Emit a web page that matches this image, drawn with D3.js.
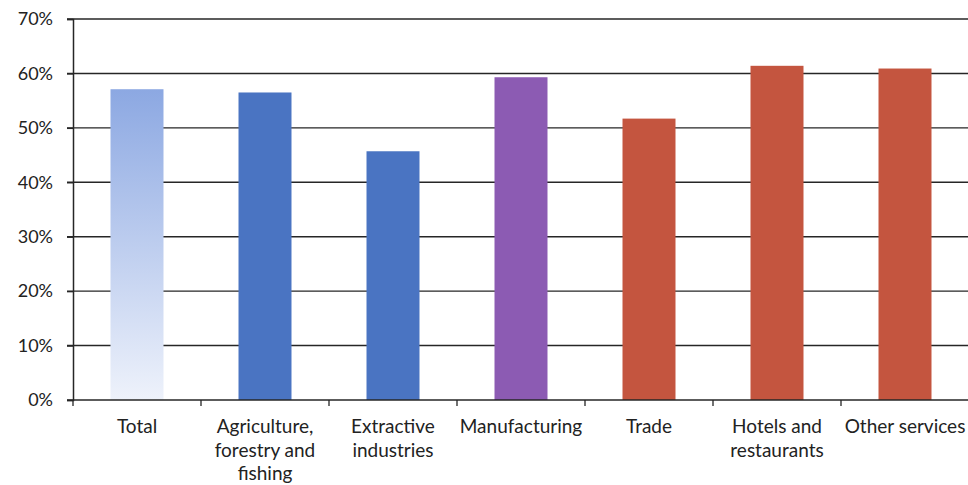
<!DOCTYPE html>
<html>
<head>
<meta charset="utf-8">
<script src="https://cdn.jsdelivr.net/npm/d3@7"></script>
<style>
  html, body { margin: 0; padding: 0; background: #fff; }
  svg { display: block; }
  text { font-family: Lato, "Open Sans", sans-serif; fill: #222; }
</style>
</head>
<body>
<svg id="chart" width="968" height="485"></svg>
<script>
// Sector labels (multi-line) and their shares
const categories = [
  ["Total"],
  ["Agriculture,", "forestry and", "fishing"],
  ["Extractive", "industries"],
  ["Manufacturing"],
  ["Trade"],
  ["Hotels and", "restaurants"],
  ["Other services"]
];
const values = [0.571, 0.565, 0.457, 0.593, 0.517, 0.614, 0.609];
const barColors = ["url(#totalGrad)", "#4a74c2", "#4a74c2", "#8c5bb3", "#c4553f", "#c4553f", "#c4553f"];
const yTicks = [0, 0.1, 0.2, 0.3, 0.4, 0.5, 0.6, 0.7];

const svg = d3.select("#chart");
const plotLeft = 73, plotRight = 969, plotTop = 19, plotBottom = 400;

const keys = categories.map(c => c.join(" "));
const x = d3.scaleBand().domain(keys).range([plotLeft, plotRight])
  .paddingInner(0.586).paddingOuter(0.293);
const y = d3.scaleLinear().domain([0, 0.7]).range([plotBottom, plotTop]);

// gradient for the "Total" bar
const defs = svg.append("defs");
const g = defs.append("linearGradient").attr("id", "totalGrad")
  .attr("x1", 0).attr("y1", 0).attr("x2", 0).attr("y2", 1);
g.append("stop").attr("offset", "0%").attr("stop-color", "#8ca8e2");
g.append("stop").attr("offset", "100%").attr("stop-color", "#eef2fb");

// horizontal gridlines with short ticks to the left of the axis
svg.append("g").selectAll("line").data(yTicks.filter(d => d > 0)).join("line")
  .attr("x1", plotLeft - 6).attr("x2", 968)
  .attr("y1", d => y(d)).attr("y2", d => y(d))
  .attr("stroke", "#262626").attr("stroke-width", 1.4);

// bars
svg.append("g").selectAll("rect").data(values).join("rect")
  .attr("x", (d, i) => x(keys[i]))
  .attr("width", x.bandwidth())
  .attr("y", d => y(d))
  .attr("height", d => y(0) - y(d))
  .attr("fill", (d, i) => barColors[i]);

// y axis
const yAxis = d3.axisLeft(y).tickValues(yTicks).tickFormat(d3.format(".0%")).tickSize(6).tickPadding(14);
const ya = svg.append("g").attr("transform", `translate(${plotLeft},0)`).call(yAxis);
ya.attr("font-family", null).attr("font-size", null);
ya.select(".domain").attr("stroke", "#262626").attr("stroke-width", 1.5);
ya.selectAll(".tick line").attr("stroke", "#262626").attr("stroke-width", 1.4);
ya.selectAll("text").style("font-size", "18px").attr("fill", "#222");

// x axis baseline and boundary ticks
svg.append("line").attr("x1", plotLeft - 6).attr("x2", 968).attr("y1", plotBottom).attr("y2", plotBottom)
  .attr("stroke", "#262626").attr("stroke-width", 1.5);
const step = x.step();
const boundaries = keys.map(k => x(k) + x.bandwidth() / 2 + step / 2);
svg.append("g").selectAll("line").data([plotLeft, ...boundaries]).join("line")
  .attr("x1", d => d).attr("x2", d => d)
  .attr("y1", plotBottom).attr("y2", plotBottom + 6)
  .attr("stroke", "#262626").attr("stroke-width", 1.3);

// category labels
const labels = svg.append("g").selectAll("text").data(categories).join("text")
  .attr("text-anchor", "middle")
  .style("font-size", "19px")
  .attr("transform", (d, i) => `translate(${x(keys[i]) + x.bandwidth() / 2},433)`);
labels.selectAll("tspan").data(d => d).join("tspan")
  .attr("x", 0).attr("dy", (d, i) => i === 0 ? 0 : 23.5)
  .text(d => d);
</script>
</body>
</html>
